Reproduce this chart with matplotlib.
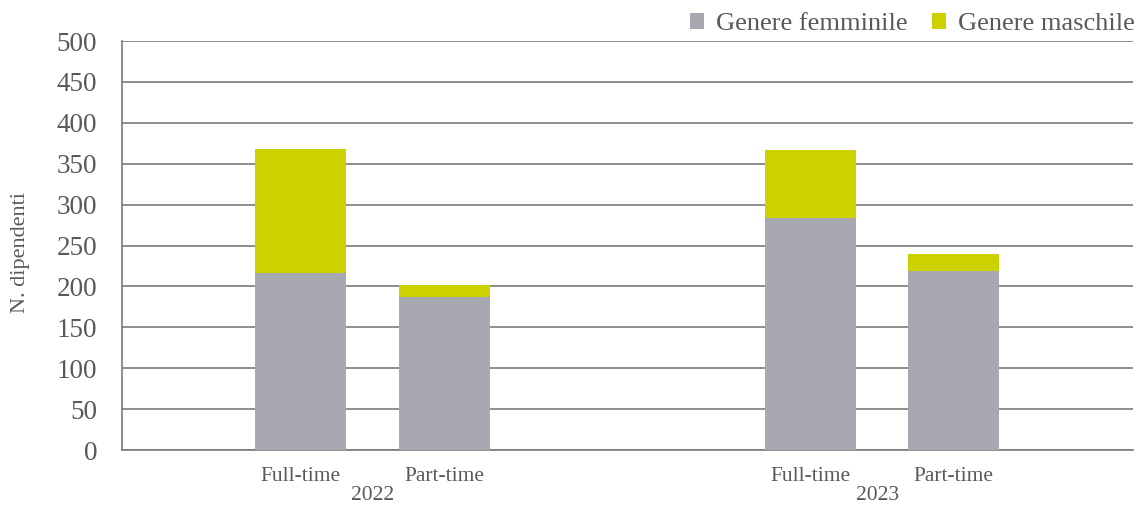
import numpy as np
import matplotlib.pyplot as plt
from matplotlib.transforms import blended_transform_factory

# employees by contract type and gender
years = ['2022', '2023']
contracts = ['Full-time', 'Part-time', 'Full-time', 'Part-time']
femminile = [216, 187, 284, 219]
maschile = [152, 15, 83, 21]

GRAY = '#A8A8B0'
YELLOW = '#CCD100'
TEXT = '#595959'

plt.rcParams['font.family'] = ['Liberation Serif', 'DejaVu Serif']

fig = plt.figure(figsize=(11.36, 5.05), dpi=100)
ax = fig.add_axes([0.1074, 0.1089, 0.89, 0.8099])

# two groups of two bars each, group width = 1
x = np.array([0.353, 0.638, 1.362, 1.645])
width = 0.18

ax.bar(x, femminile, width, color=GRAY, label='Genere femminile', zorder=3)
ax.bar(x, maschile, width, bottom=femminile, color=YELLOW,
       label='Genere maschile', zorder=3)

ax.set_xlim(0, 2)
ax.set_ylim(0, 500)
ax.set_yticks(np.arange(0, 501, 50))
ax.yaxis.grid(True, color='#7a7a7a', linewidth=1.2, zorder=0)

ax.set_xticks(x)
ax.set_xticklabels(contracts, fontsize=15.5, color=TEXT)
ax.tick_params(axis='x', length=0, pad=12)
ax.tick_params(axis='y', length=0, pad=18, labelsize=19.5, labelcolor=TEXT)

for s in ['top', 'right']:
    ax.spines[s].set_visible(False)
for s in ['left', 'bottom']:
    ax.spines[s].set_color('#7a7a7a')
    ax.spines[s].set_linewidth(1.2)

trans = blended_transform_factory(ax.transData, ax.transAxes)
for i, yr in enumerate(years):
    ax.text(i + 0.495, -0.112, yr, transform=trans, ha='center', va='center',
            fontsize=15.5, color=TEXT)

fig.text(0.018, 0.5, 'N. dipendenti', rotation=90, ha='center', va='center',
         fontsize=16, color=TEXT)

leg = fig.legend(loc='upper right', bbox_to_anchor=(1.02, 1.022), ncol=2,
                 frameon=False, fontsize=19, handlelength=0.55,
                 handleheight=0.55, handletextpad=0.45, columnspacing=0.9)
for t in leg.get_texts():
    t.set_color(TEXT)

fig.savefig('out.png', dpi=100)
